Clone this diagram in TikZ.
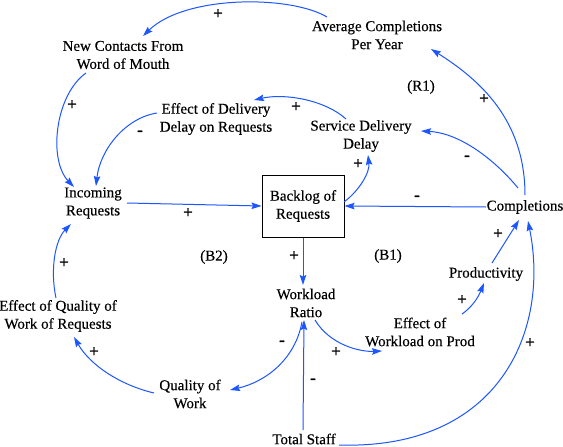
\documentclass[tikz,border=0pt]{standalone}
\usepackage{fontspec}
\setmainfont{Liberation Serif}[FakeBold=0.3]
\newfontfamily\signfont{Liberation Serif}[FakeBold=1.0]
\usetikzlibrary{arrows.meta,calc}
\definecolor{linkblue}{RGB}{28,86,255}
\tikzset{
  var/.style={align=center,inner sep=0pt,font=\fontsize{15}{18}\selectfont},
  stock/.style={draw=black,line width=1pt,minimum width=82pt,minimum height=62pt,align=center,inner sep=0pt,font=\fontsize{15}{18}\selectfont},
  sign/.style={inner sep=0pt,font=\signfont\fontsize{17}{18}\selectfont},
  loopname/.style={inner sep=0pt,font=\fontsize{15}{18}\selectfont},
  link/.style={draw=linkblue,line width=1pt,-{Stealth[length=10pt,width=6.5pt,inset=1.5pt]}}
}
\begin{document}
\begin{tikzpicture}[x=1pt,y=-1pt]
\useasboundingbox[fill=white] (0,0) rectangle (563,447);
% variables
\node[var] (avg) at (377,35) {Average Completions\\Per Year};
\node[var] (newc) at (123,55) {New Contacts From\\Word of Mouth};
\node[var] (effdel) at (216,119) {Effect of Delivery\\Delay on Requests};
\node[var] (sdd) at (361,136) {Service Delivery\\Delay};
\node[var] (inc) at (93,203) {Incoming\\Requests};
\node[stock] (backlog) at (303,206) {Backlog of\\Requests};
\node[var] (comp) at (525,207) {Completions};
\node[var] (prod) at (486,274) {Productivity};
\node[var] (work) at (306,303) {Workload\\Ratio};
\node[var] (effwl) at (420,332) {Effect of\\Workload on Prod};
\node[var] (effq) at (58,316) {Effect of Quality of\\Work of Requests};
\node[var] (qual) at (190,394) {Quality of\\Work};
\node[var] (staff) at (304,439) {Total Staff};
% loop names
\node[loopname] (r1) at (421,87) {(R1)};
\node[loopname] (b2) at (214,257) {(B2)};
\node[loopname] (b1) at (388,256) {(B1)};
% links
\draw[link] ($(avg)+(-50,-18)$) .. controls (290,-5) and (185,-5) .. ($(newc)+(20,-19)$);
\draw[link] ($(newc)+(-37,18)$) .. controls (55,95) and (48,160) .. ($(inc)+(-19,-16)$);
\draw[link] ($(effdel)+(-59,-6)$) .. controls (125,118) and (100,150) .. ($(inc)+(3,-17)$);
\draw[link] ($(sdd)+(-15,-17)$) .. controls (325,100) and (285,93) .. ($(effdel)+(38,-19)$);
\draw[link] ($(inc)+(34,0)$) -- (backlog.west);
\draw[link] ($(backlog)+(41,-4)$) .. controls (360,190) and (370,172) .. ($(sdd)+(7,19)$);
\draw[link] ($(comp)+(-39,0)$) -- (backlog.east);
\draw[link] ($(comp)+(-7,-19)$) .. controls (495,160) and (460,133) .. ($(sdd)+(60,-5)$);
\draw[link] ($(comp)+(0,-12)$) .. controls (525,120) and (480,80) .. ($(avg)+(54,14)$);
\draw[link] (backlog.south) -- ($(work)+(-3,-18)$);
\draw[link] ($(work)+(9,17)$) .. controls (330,345) and (360,352) .. ($(effwl)+(-38,19)$);
\draw[link] ($(effwl)+(42,-18)$) .. controls (475,305) and (480,293) .. ($(prod)+(-2,9)$);
\draw[link] ($(prod)+(6,-11)$) -- ($(comp)+(-6,13)$);
\draw[link] ($(staff)+(-1,-9)$) -- ($(work)+(-2,17)$);
\draw[link] ($(staff)+(35,6)$) .. controls (500,450) and (550,330) .. ($(comp)+(3,14)$);
\draw[link] ($(work)+(-4,19)$) .. controls (295,360) and (265,382) .. ($(qual)+(40,-4)$);
\draw[link] ($(qual)+(-36,-1)$) .. controls (120,385) and (90,365) .. ($(effq)+(16,21)$);
\draw[link] ($(effq)+(-2,-18)$) .. controls (50,270) and (55,240) .. ($(inc)+(-22,21)$);
% signs
\node[sign] (s1) at (218,14) {+};
\node[sign] (s2) at (72,105) {+};
\node[sign] (s3) at (140,133) {-};
\node[sign] (s4) at (296,107) {+};
\node[sign] (s5) at (188,213) {+};
\node[sign] (s6) at (358,164) {+};
\node[sign] (s7) at (417,198) {-};
\node[sign] (s8) at (467,158) {-};
\node[sign] (s9) at (484,99) {+};
\node[sign] (s10) at (294,256) {+};
\node[sign] (s11) at (336,352) {+};
\node[sign] (s12) at (462,300) {+};
\node[sign] (s13) at (498,234) {+};
\node[sign] (s14) at (313,381) {-};
\node[sign] (s15) at (530,343) {+};
\node[sign] (s16) at (282,343) {-};
\node[sign] (s17) at (94,352) {+};
\node[sign] (s18) at (64,263) {+};
\end{tikzpicture}
\end{document}
